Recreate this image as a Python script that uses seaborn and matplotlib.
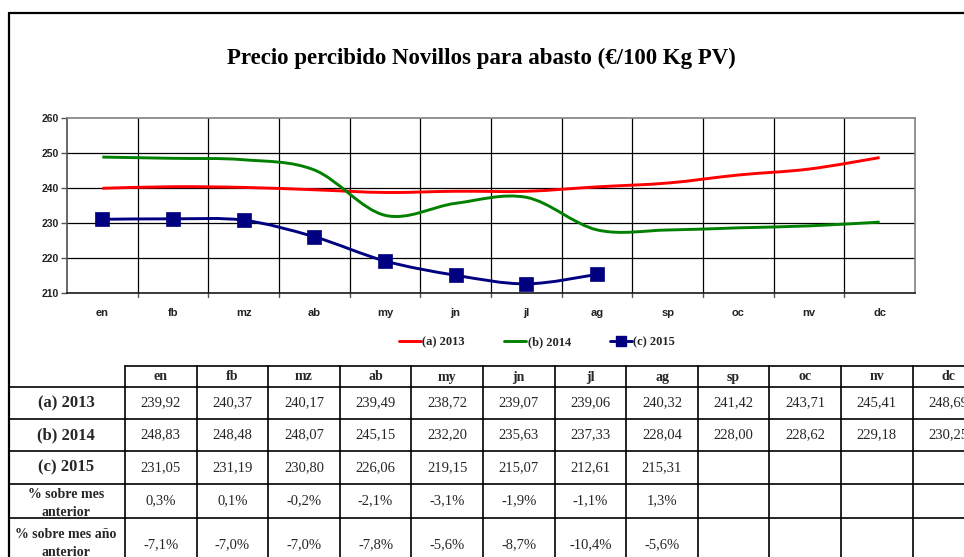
import numpy as np
import pandas as pd
import seaborn as sns
import matplotlib
matplotlib.use("Agg")
import matplotlib.pyplot as plt
from matplotlib.path import Path
from matplotlib.patches import PathPatch
from matplotlib.lines import Line2D

# ---- data ----
months = ["en", "fb", "mz", "ab", "my", "jn", "jl", "ag", "sp", "oc", "nv", "dc"]
price_2013 = [239.92, 240.37, 240.17, 239.49, 238.72, 239.07, 239.06, 240.32, 241.42, 243.71, 245.41, 248.69]
price_2014 = [248.83, 248.48, 248.07, 245.15, 232.20, 235.63, 237.33, 228.04, 228.00, 228.62, 229.18, 230.25]
price_2015 = [231.05, 231.19, 230.80, 226.06, 219.15, 215.07, 212.61, 215.31]
pct_prev_month = [0.3, 0.1, -0.2, -2.1, -3.1, -1.9, -1.1, 1.3]
pct_prev_year = [-7.1, -7.0, -7.0, -7.8, -5.6, -8.7, -10.4, -5.6]
series_labels = ["(a) 2013", "(b) 2014", "(c) 2015"]
series_colors = ["#ff0000", "#008000", "#000080"]
title = "Precio percibido Novillos para abasto (€/100 Kg PV)"

sns.set_theme(style="white")
plt.rcParams["font.family"] = ["Liberation Sans", "DejaVu Sans"]

W, H = 964, 557
fig = plt.figure(figsize=(W / 100, H / 100), dpi=100)
fig.patch.set_facecolor("white")

# ---- chart axes ----
ax_l, ax_r, ax_t, ax_b = 67, 915, 118, 293
ax = fig.add_axes([ax_l / W, 1 - ax_b / H, (ax_r - ax_l) / W, (ax_b - ax_t) / H])
ax.set_facecolor("white")
ax.set_xlim(-0.5, 11.5)
ax.set_ylim(210, 260)
ax.set_yticks(np.arange(210, 261, 10))
ax.set_xticks(np.arange(12))
ax.set_xticklabels(months, fontsize=8, fontweight="bold", color="#222222")
ax.set_yticklabels([str(v) for v in range(210, 261, 10)], fontsize=7.5, fontweight="bold", color="#222222")
ax.tick_params(axis="x", length=0, pad=11)
ax.tick_params(axis="y", length=4, width=1, color="#555555", left=True, pad=2)
# vertical grid on category boundaries, horizontal grid on values
for b in np.arange(-0.5, 12.0, 1.0)[1:-1]:
    ax.axvline(b, color="black", lw=0.9, zorder=1)
    ax.plot([b, b], [210, 208.8], color="#555555", lw=1, clip_on=False, zorder=1)
for yv in range(220, 260, 10):
    ax.axhline(yv, color="black", lw=0.9, zorder=1)
for side in ["top", "right"]:
    ax.spines[side].set_color("#808080")
    ax.spines[side].set_linewidth(1.2)
ax.spines["left"].set_color("#555555")
ax.spines["bottom"].set_color("#222222")
for s in ax.spines.values():
    s.set_visible(True)
ax.grid(False)


def smooth_path(xs, ys):
    """Cardinal (Catmull-Rom) Bezier path through the points."""
    pts = np.column_stack([xs, ys]).astype(float)
    n = len(pts)
    verts = [pts[0]]
    codes = [Path.MOVETO]
    for i in range(n - 1):
        p0 = pts[i - 1] if i > 0 else pts[i]
        p1 = pts[i]
        p2 = pts[i + 1]
        p3 = pts[i + 2] if i + 2 < n else pts[i + 1]
        c1 = p1 + (p2 - p0) / 6.0
        c2 = p2 - (p3 - p1) / 6.0
        verts += [c1, c2, p2]
        codes += [Path.CURVE4] * 3
    return Path(verts, codes)


for vals, col in zip([price_2013, price_2014, price_2015], series_colors):
    xs = np.arange(len(vals))
    ax.add_patch(PathPatch(smooth_path(xs, vals), facecolor="none", edgecolor=col,
                           lw=2.1, zorder=3, capstyle="butt"))

df15 = pd.DataFrame({"mes": np.arange(len(price_2015)), "precio": price_2015})
sns.scatterplot(data=df15, x="mes", y="precio", marker="s", s=115, color=series_colors[2],
                edgecolor=series_colors[2], linewidth=0.5, zorder=4, ax=ax, legend=False)
ax.set_xlabel("")
ax.set_ylabel("")

# ---- legend ----
handles = [
    Line2D([], [], color=series_colors[0], lw=2.1),
    Line2D([], [], color=series_colors[1], lw=2.1),
    Line2D([], [], color=series_colors[2], lw=2.1, marker="s", markersize=7),
]
fig.legend(handles, series_labels, loc="center", bbox_to_anchor=(537 / W, 1 - 342 / H),
           ncol=3, frameon=False, handlelength=1.8, handletextpad=0.1, columnspacing=3.1,
           prop={"family": "Liberation Serif", "weight": "bold", "size": 9})

# ---- overlay in pixel coordinates: title, frame and data table ----
ov = fig.add_axes([0, 0, 1, 1], zorder=-1)
ov.set_xlim(0, W)
ov.set_ylim(H, 0)
ov.axis("off")

ov.text(481, 58, title, ha="center", va="center", fontsize=16.5, fontweight="bold",
        family="Liberation Serif", color="black")

# outer frame
ov.plot([9, W], [13, 13], color="black", lw=1.6)
ov.plot([9, 9], [13, H], color="black", lw=1.6)

col0 = 125
step = 71.6
col_edges = [col0 + i * step for i in range(13)]
row_edges = [366, 387, 419, 451, 484, 518, 572]

# horizontal rules
ov.plot([col0, W], [row_edges[0], row_edges[0]], color="black", lw=1.2)
for y in row_edges[1:-1]:
    ov.plot([9, W], [y, y], color="black", lw=1.2)
# vertical rules
for x in col_edges:
    ov.plot([x, x], [row_edges[0], H], color="black", lw=1.2)

serif = "Liberation Serif"
# header
for i, m in enumerate(months):
    xc = (col_edges[i] + col_edges[i + 1]) / 2
    ov.text(xc, 377, m, ha="center", va="center", fontsize=10, fontweight="bold", family=serif)


def fmt(v, dec=2):
    return f"{v:.{dec}f}".replace(".", ",")


rows = [price_2013, price_2014, price_2015]
for r, (lab, vals) in enumerate(zip(series_labels, rows)):
    yc = (row_edges[r + 1] + row_edges[r + 2]) / 2
    ov.text(66, yc, lab, ha="center", va="center", fontsize=12, fontweight="bold", family=serif)
    for i, v in enumerate(vals):
        xc = (col_edges[i] + col_edges[i + 1]) / 2
        ov.text(xc, yc, fmt(v), ha="center", va="center", fontsize=10.5, family=serif)

pct_rows = [("% sobre mes\nanterior", pct_prev_month, 503, 501),
            ("% sobre mes año\nanterior", pct_prev_year, 543, 545)]
for lab, vals, y_lab, y_val in pct_rows:
    ov.text(66, y_lab, lab, ha="center", va="center", fontsize=10, fontweight="bold",
            family=serif, linespacing=1.5)
    for i, v in enumerate(vals):
        xc = (col_edges[i] + col_edges[i + 1]) / 2
        ov.text(xc, y_val, fmt(v, 1) + "%", ha="center", va="center", fontsize=10.5, family=serif)

fig.savefig("out.png", dpi=100)
